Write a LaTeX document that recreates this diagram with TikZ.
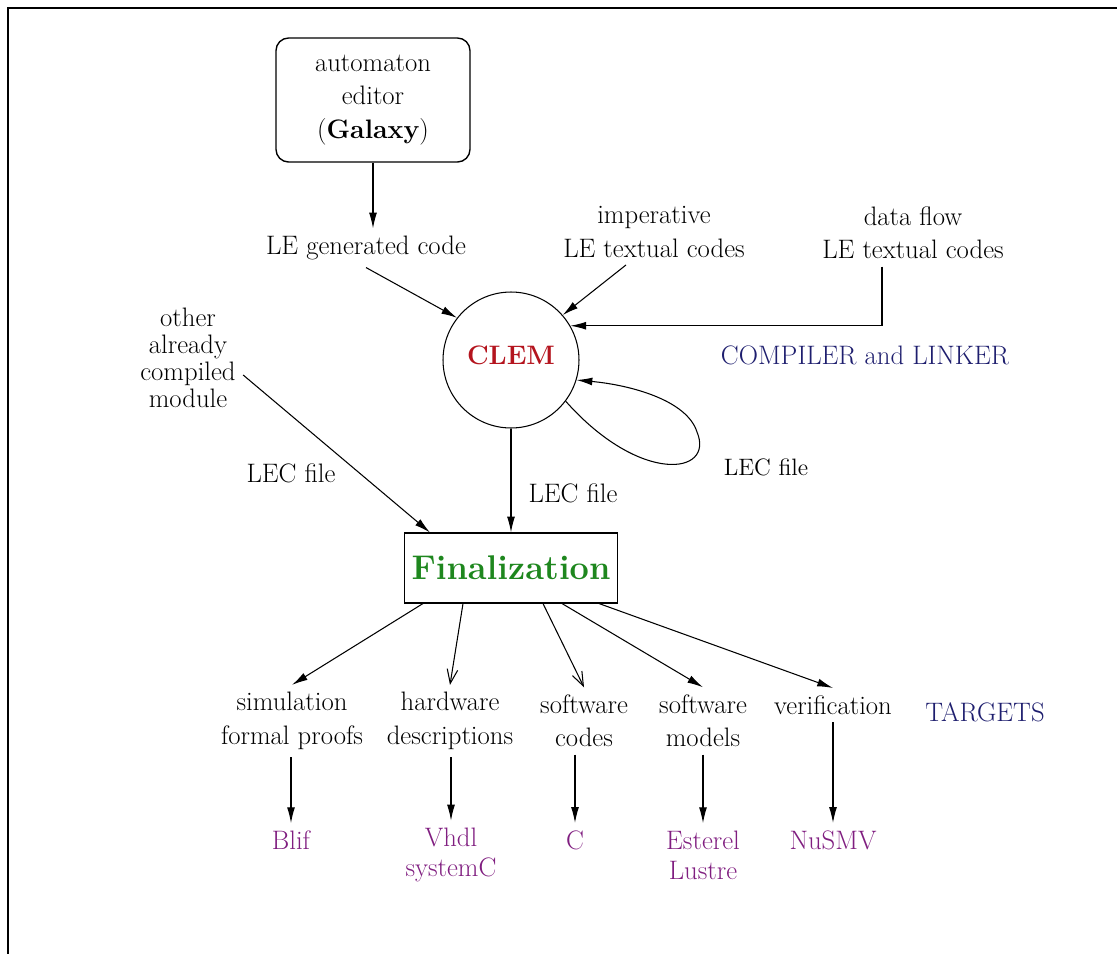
\documentclass[tikz,border=0pt]{standalone}
\usetikzlibrary{arrows.meta}
\definecolor{clemred}{RGB}{180,20,30}
\definecolor{fingreen}{RGB}{30,135,30}
\definecolor{navy}{RGB}{30,30,110}
\definecolor{outpurple}{RGB}{128,30,128}

\begin{document}
\begin{tikzpicture}[x=0.02cm,y=-0.02cm,line width=0.6pt]
  \tikzset{txt/.style = {draw=none,align=center,inner sep=4pt,font=\fontsize{15.2}{19}\selectfont}}
  \tikzset{tip/.style = {-{Latex[length=9pt,width=4.5pt]}}}
  \tikzset{opentip/.style = {-{Straight Barb[length=8pt,width=6pt]}}}
  \tikzset{target/.style = {txt,text=outpurple,font=\fontsize{15.2}{17}\selectfont}}

\useasboundingbox (0,0) rectangle (1117,954);
\draw[line width=1.7pt] (8,954) -- (8,8) -- (1117,8);

\node[txt, draw, line width=0.8pt, rounded corners=0.25cm, minimum width=3.88cm, minimum height=2.48cm] (galaxy) at (373,100) {automaton\\editor\\(\textbf{Galaxy})};
\node[txt] (legen) at (366,248) {LE generated code};
\node[txt] (imper) at (654,232) {imperative\\LE textual codes};
\node[txt] (dflow) at (913,233) {data flow\\LE textual codes};
\node[txt, draw, circle, minimum size=2.72cm, inner sep=0pt, text=clemred, font=\fontsize{15.2}{19}\selectfont\bfseries] (clem) at (511,360) {\raisebox{0.2cm}{CLEM}};
\node[txt, text=navy] (compiler) at (865,355) {COMPILER and LINKER};
\node[txt, font=\fontsize{15.2}{15.4}\selectfont] (other) at (188,358) {other\\already\\compiled\\module};
\node[txt, draw, minimum width=4.26cm, minimum height=1.4cm, text=fingreen, font=\fontsize{19.5}{24}\selectfont\bfseries] (final) at (511,568) {Finalization};

\node[txt] (leca) at (291,473) {LEC file};
\node[txt] (lecb) at (573,493) {LEC file};
\node[txt, font=\fontsize{13.5}{16}\selectfont] (lecc) at (766,467) {LEC file};

\node[txt] (simul) at (292,721) {simulation\\formal proofs};
\node[txt] (hardw) at (450,721) {hardware\\descriptions};
\node[txt] (softc) at (584,721) {software\\codes};
\node[txt] (softm) at (703,721) {software\\models};
\node[txt] (verif) at (833,705) {verification};
\node[txt, text=navy] (targets) at (985,712) {TARGETS};

\node[target] (blif) at (291,840) {Blif};
\node[target] (vhdl) at (451,855) {Vhdl\\systemC};
\node[target] (cc) at (575,840) {C};
\node[target] (ester) at (703,855) {Esterel\\Lustre};
\node[target] (nusmv) at (833,840) {NuSMV};

  % inputs of the compiler
    \path[tip] (galaxy.south) edge (galaxy.south |- legen.north);
    \path[tip] (legen.south) edge (clem.142);
    \path[tip] ([xshift=-0.56cm]imper.south) edge (clem.41);
    \draw[tip] ([xshift=-0.62cm]dflow.south) |- (clem.30);
    \draw[tip] (clem.-37) .. controls (640,485) and (715,475) .. (697,432) .. controls (687,400) and (630,385) .. (clem.-17);

  % to finalization
    \path[tip] (clem) edge (final);
    \path[tip] ([yshift=-0.34cm]other.east) edge ([xshift=0.52cm]final.north west);

  % targets
    \path[tip] ([xshift=-1.76cm]final.south) edge (simul.north);
    \path[opentip] ([xshift=-0.96cm]final.south) edge (hardw.north);
    \path[opentip] ([xshift=0.64cm]final.south) edge (softc.north);
    \path[tip] ([xshift=1.02cm]final.south) edge (softm.north);
    \path[tip] ([xshift=1.76cm]final.south) edge (verif.north);

    \path[tip] (simul.south -| blif) edge (blif);
    \path[tip] (hardw.south -| vhdl) edge (vhdl);
    \path[tip] (softc.south -| cc) edge (cc);
    \path[tip] (softm.south -| ester) edge (ester);
    \path[tip] (verif.south -| nusmv) edge (nusmv);

\end{tikzpicture}
\end{document}
